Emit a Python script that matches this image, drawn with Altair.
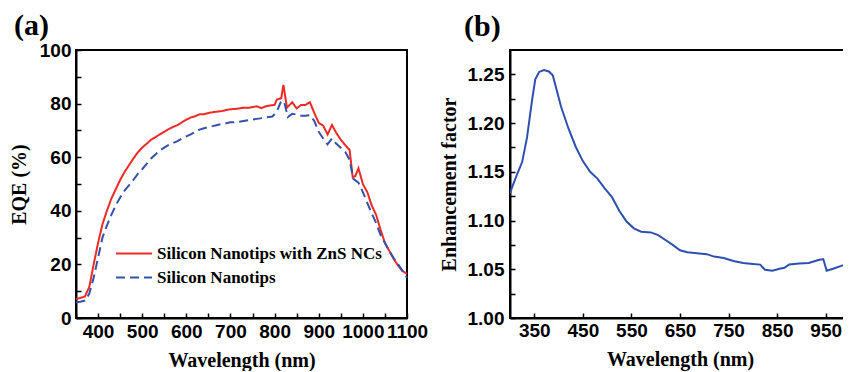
import altair as alt
import pandas as pd

# ---------------- Panel (a): EQE ----------------
S1 = "Silicon Nanotips with ZnS NCs"
S2 = "Silicon Nanotips"

wl_red = [350, 360, 370, 380, 390, 400, 410, 420, 430, 440, 450, 460, 470, 480, 490,
          500, 510, 520, 530, 540, 550, 560, 570, 580, 590, 600, 610, 620, 630, 640,
          650, 660, 670, 680, 690, 700, 710, 720, 730, 740, 750, 760, 770, 780, 790,
          800, 805, 815, 820, 828, 840, 850, 860, 870, 880, 890, 900, 910, 920, 930,
          940, 950, 960, 970, 977, 983, 990, 1000, 1010, 1020, 1030, 1040, 1050, 1060,
          1070, 1080, 1090, 1100]
eqe_red = [7.0, 7.5, 8.0, 11.5, 20.0, 28.0, 35.0, 40.0, 44.5, 48.0, 51.5, 54.5, 57.0, 59.5, 61.8,
           63.6, 65.0, 66.5, 67.5, 68.5, 69.5, 70.5, 71.3, 72.0, 73.0, 74.0, 74.8, 75.3, 76.0, 76.0,
           76.5, 76.8, 77.0, 77.2, 77.6, 77.9, 78.0, 78.2, 78.5, 78.4, 78.7, 79.0, 78.3, 79.0, 79.3,
           79.5, 81.5, 82.0, 87.0, 78.5, 80.5, 78.2, 79.5, 79.5, 80.5, 76.5, 72.8, 71.8, 68.5, 72.0,
           69.0, 66.5, 64.5, 62.7, 52.5, 53.0, 55.9, 50.0, 47.0, 42.0, 38.5, 33.0, 28.0, 25.0,
           22.0, 19.5, 17.5, 16.5]

wl_blue = [350, 360, 370, 380, 390, 400, 410, 420, 430, 440, 450, 460, 470, 480, 490,
           500, 510, 520, 530, 540, 550, 560, 570, 580, 590, 600, 610, 620, 630, 640,
           650, 660, 670, 680, 690, 700, 720, 740, 760, 780, 795, 805, 815, 822, 830,
           840, 850, 860, 870, 880, 890, 900, 910, 920, 930, 940, 950, 960, 970, 978,
           990, 1000, 1010, 1020, 1030, 1040, 1050, 1060, 1070, 1080, 1090, 1100]
eqe_blue = [5.9, 6.1, 6.5, 9.0, 15.0, 22.5, 30.0, 34.5, 38.5, 42.0, 45.0, 47.5, 49.5, 51.5, 53.8,
            55.5, 57.5, 59.5, 61.0, 62.5, 63.6, 64.6, 65.3, 66.0, 67.0, 67.8, 68.5, 69.5, 70.3, 70.8,
            71.2, 71.6, 72.0, 72.4, 72.7, 73.0, 73.2, 73.8, 74.3, 74.8, 75.2, 77.0, 81.0, 80.5, 75.0,
            76.2, 75.9, 75.5, 75.5, 75.7, 73.5, 69.5, 67.0, 64.8, 67.0, 65.0, 63.5, 62.0, 59.0, 52.0,
            50.5, 47.0, 43.0, 39.0, 35.5, 31.0, 28.0, 25.0, 22.3, 20.0, 17.5, 15.0]

# ---------------- Panel (b): Enhancement factor ----------------
wl_ef = [300, 305, 315, 325, 335, 345, 352, 360, 370, 380, 388, 395, 405, 420, 435,
         450, 465, 480, 495, 510, 525, 540, 555, 570, 590, 605, 620, 635, 650, 665,
         685, 705, 720, 740, 760, 780, 800, 815, 825, 840, 855, 865, 875, 895, 915,
         935, 945, 952, 965, 985, 1000]
ef = [1.128, 1.135, 1.148, 1.160, 1.185, 1.222, 1.245, 1.2525, 1.2545, 1.253, 1.249, 1.236, 1.217, 1.195, 1.176,
      1.161, 1.150, 1.143, 1.133, 1.124, 1.110, 1.099, 1.092, 1.0885, 1.0878, 1.085, 1.080, 1.075, 1.0695, 1.0675,
      1.0665, 1.0655, 1.063, 1.0615, 1.0585, 1.0565, 1.0555, 1.0548, 1.0495, 1.0485, 1.0505, 1.0515, 1.055, 1.0558, 1.0565,
      1.0595, 1.0605, 1.0485, 1.0505, 1.054, 1.056]

x_ticks_a = [350, 400, 450, 500, 550, 600, 650, 700, 750, 800, 850, 900, 950, 1000, 1050, 1100]
y_ticks_a = [0, 10, 20, 30, 40, 50, 60, 70, 80, 90, 100]
x_ticks_b = [350, 450, 550, 650, 750, 850, 950]
y_ticks_b = [1.0, 1.025, 1.05, 1.075, 1.1, 1.125, 1.15, 1.175, 1.2, 1.225, 1.25]

df_a = pd.DataFrame({
    "wl": wl_red + wl_blue,
    "eqe": eqe_red + eqe_blue,
    "series": [S1] * len(wl_red) + [S2] * len(wl_blue),
})
df_b = pd.DataFrame({"wl": wl_ef, "ef": ef})

SERIF = "Liberation Serif"
SANS = "Liberation Sans"
IN_TICK = alt.ExprRef("-5")

legend_a = alt.Legend(
    title=None, orient="none", legendX=39, legendY=195,
    labelFont=SERIF, labelFontWeight="bold", labelFontSize=17, labelColor="black",
    labelLimit=400,
    symbolType="stroke", symbolSize=1296, symbolStrokeWidth=2,
    labelOffset=4, clipHeight=17, rowPadding=6, padding=0,
)

left = alt.Chart(df_a).mark_line(strokeWidth=2).encode(
    x=alt.X("wl:Q", scale=alt.Scale(domain=[350, 1100], nice=False),
            axis=alt.Axis(values=x_ticks_a, format="d", title="Wavelength (nm)",
                          labelExpr="datum.value % 100 == 0 ? datum.label : ''",
                          tickSize=IN_TICK, labelPadding=9, titlePadding=9)),
    y=alt.Y("eqe:Q", scale=alt.Scale(domain=[0, 100], nice=False),
            axis=alt.Axis(values=y_ticks_a, format="d", title="EQE (%)",
                          labelExpr="datum.value % 20 == 0 ? datum.label : ''",
                          tickSize=IN_TICK, labelPadding=10, titlePadding=10)),
    color=alt.Color("series:N", scale=alt.Scale(domain=[S1, S2], range=["#ee2a24", "#3552aa"]),
                    legend=legend_a),
    strokeDash=alt.StrokeDash("series:N", scale=alt.Scale(domain=[S1, S2], range=[[1, 0], [9, 5]]),
                              legend=legend_a),
).properties(
    width=331, height=268,
    title=alt.TitleParams("(a)", anchor="start", frame="group", dx=-62, offset=-24,
                          baseline="alphabetic", font=SERIF, fontSize=30, fontWeight="bold",
                          color="black"),
)

right = alt.Chart(df_b).mark_line(strokeWidth=2, color="#2d4fb0", clip=True).encode(
    x=alt.X("wl:Q", scale=alt.Scale(domain=[300, 1000], nice=False),
            axis=alt.Axis(values=x_ticks_b, format="d", title="Wavelength (nm)",
                          tickSize=IN_TICK, labelPadding=8, titlePadding=9)),
    y=alt.Y("ef:Q", scale=alt.Scale(domain=[1.0, 1.275], nice=False, zero=False),
            axis=alt.Axis(values=y_ticks_b, title="Enhancement factor",
                          labelExpr="round(datum.value * 1000) % 50 == 0 ? format(datum.value, '.2f') : ''",
                          tickSize=IN_TICK, labelPadding=11, titlePadding=8)),
).properties(
    width=340, height=268,
    title=alt.TitleParams("(b)", anchor="start", frame="group", dx=-46, offset=-16,
                          baseline="alphabetic", font=SERIF, fontSize=30, fontWeight="bold",
                          color="black"),
)

chart = alt.hconcat(
    left, right, spacing=103, bounds="flush",
    padding={"left": 0, "top": 2, "right": -8, "bottom": 0},
).configure_view(
    stroke="black", strokeWidth=2
).configure_axis(
    grid=False, labelFlush=False, labelOverlap=False,
    labelFont=SANS, labelFontWeight="bold", labelFontSize=19, labelColor="black",
    titleFont=SERIF, titleFontWeight="bold", titleFontSize=20, titleColor="black",
    domainColor="black", domainWidth=2, tickColor="black", tickWidth=1.5,
)

chart.save("out.html", embed_options={"renderer": "svg", "actions": False})
